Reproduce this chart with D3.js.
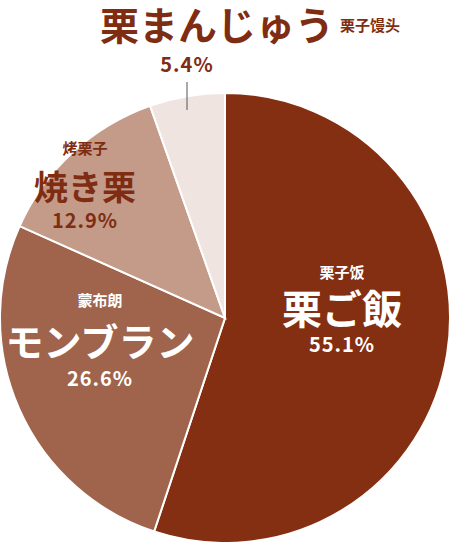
<!DOCTYPE html>
<html lang="ja">
<head>
<meta charset="UTF-8">
<script src="https://d3js.org/d3.v7.min.js"></script>
<style>
  body { margin: 0; background: #fff; }
  text { font-family: "Noto Sans CJK JP", sans-serif; font-weight: 700; }
</style>
</head>
<body>
<svg width="451" height="542"></svg>
<script>
const names = ["栗ご飯", "モンブラン", "焼き栗", "栗まんじゅう"];
const subNames = ["栗子饭", "蒙布朗", "烤栗子", "栗子馒头"];
const values = [55.1, 26.6, 12.9, 5.4];
const colors = ["#842f12", "#a0644d", "#c49b89", "#efe4e0"];

const svg = d3.select("svg");
const cx = 225, cy = 318, r = 225;

const pie = d3.pie().sort(null).value(d => d)(values);
const arc = d3.arc().innerRadius(0).outerRadius(r);

const g = svg.append("g").attr("transform", `translate(${cx},${cy})`);
g.selectAll("path")
  .data(pie)
  .enter()
  .append("path")
  .attr("d", arc)
  .attr("fill", (d, i) => colors[i])
  .attr("stroke", "#fff")
  .attr("stroke-width", 2);

const labels = [
  { x: 342, sub: 278, big: 324, pct: 352, size: 40, fill: "#fff" },
  { x: 100, sub: 306, big: 356, pct: 386, size: 38, fill: "#fff" },
  { x: 85, sub: 154, big: 200, pct: 228, size: 34, fill: "#7f2d12" }
];
labels.forEach((l, i) => {
  svg.append("text").attr("x", l.x).attr("y", l.sub).attr("text-anchor", "middle")
    .attr("font-size", 15).attr("fill", l.fill).text(subNames[i]);
  svg.append("text").attr("x", l.x).attr("y", l.big).attr("text-anchor", "middle")
    .attr("font-size", l.size).attr("fill", l.fill).text(names[i]);
  svg.append("text").attr("x", l.x).attr("y", l.pct).attr("text-anchor", "middle")
    .attr("font-size", 20).attr("fill", l.fill).attr("letter-spacing", 1).text(values[i].toFixed(1) + "%");
});

svg.append("text").attr("x", 100).attr("y", 40).attr("font-size", 39).attr("fill", "#7f2d12").text(names[3]);
svg.append("text").attr("x", 340).attr("y", 31).attr("font-size", 15).attr("fill", "#7f2d12").text(subNames[3]);
svg.append("text").attr("x", 187).attr("y", 72).attr("text-anchor", "middle").attr("font-size", 20)
  .attr("fill", "#7f2d12").attr("letter-spacing", 1).text(values[3].toFixed(1) + "%");
svg.append("line").attr("x1", 187).attr("x2", 187).attr("y1", 82).attr("y2", 110)
  .attr("stroke", "#555").attr("stroke-width", 1);
</script>
</body>
</html>
